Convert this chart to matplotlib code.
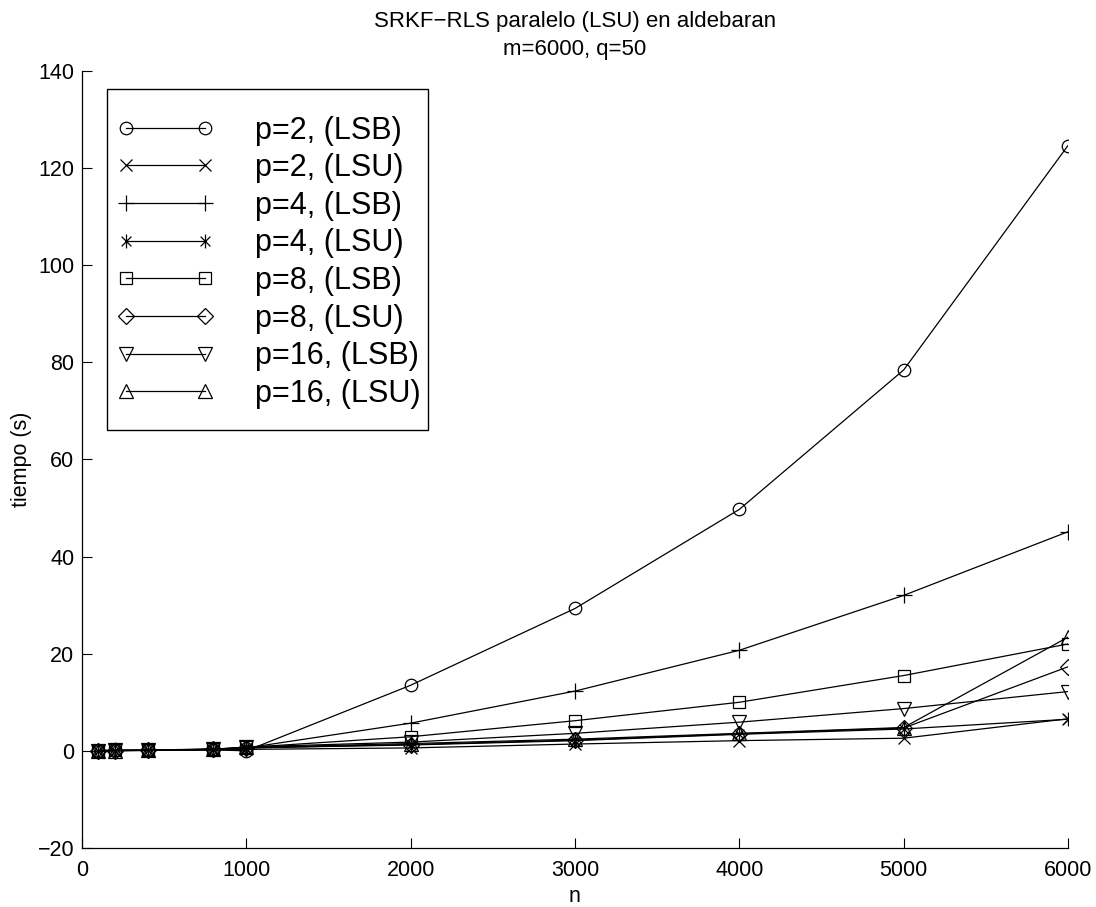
import numpy as np
import matplotlib
matplotlib.use('Agg')
import matplotlib.pyplot as plt
from matplotlib.path import Path
from matplotlib.patches import Rectangle
from matplotlib.lines import Line2D
from matplotlib.legend_handler import HandlerLine2D

# problem sizes
n = [100, 200, 400, 800, 1000, 2000, 3000, 4000, 5000, 6000]

# execution times (s)
t_p2_lsb = [0.05, 0.1, 0.1, 0.2, 0.0, 13.5, 29.3, 49.7, 78.4, 124.6]
t_p2_lsu = [0.02, 0.04, 0.08, 0.2, 0.3, 0.6, 1.4, 2.1, 2.6, 6.6]
t_p4_lsb = [0.05, 0.1, 0.15, 0.4, 0.6, 5.7, 12.3, 20.7, 32.0, 45.1]
t_p4_lsu = [0.03, 0.05, 0.1, 0.3, 0.6, 1.2, 2.1, 3.4, 4.5, 6.5]
t_p8_lsb = [0.05, 0.08, 0.12, 0.35, 0.7, 2.9, 6.2, 10.0, 15.5, 22.0]
t_p8_lsu = [0.03, 0.05, 0.1, 0.3, 0.6, 1.3, 2.2, 3.5, 4.7, 17.3]
t_p16_lsb = [0.05, 0.08, 0.12, 0.3, 0.8, 1.8, 3.6, 5.9, 8.7, 12.2]
t_p16_lsu = [0.04, 0.06, 0.1, 0.3, 0.7, 1.5, 2.4, 3.6, 4.8, 23.4]

labels = ['p=2, (LSB)', 'p=2, (LSU)', 'p=4, (LSB)', 'p=4, (LSU)',
          'p=8, (LSB)', 'p=8, (LSU)', 'p=16, (LSB)', 'p=16, (LSU)']

# asterisk like the one matlab uses: vertical bar plus an x
asterisk = Path([(0, -1), (0, 1), (-0.7, -0.7), (0.7, 0.7), (-0.7, 0.7), (0.7, -0.7)],
                [Path.MOVETO, Path.LINETO, Path.MOVETO, Path.LINETO, Path.MOVETO, Path.LINETO])

series = [
    (t_p2_lsb, 'o', 9),
    (t_p2_lsu, 'x', 8),
    (t_p4_lsb, '+', 11),
    (t_p4_lsu, asterisk, 10),
    (t_p8_lsb, 's', 8),
    (t_p8_lsu, 'D', 8),
    (t_p16_lsb, 'v', 10),
    (t_p16_lsu, '^', 10),
]

plt.rcParams['font.family'] = ['Liberation Sans', 'DejaVu Sans']

W, H = 1096, 907
fig = plt.figure(figsize=(W / 100, H / 100), dpi=100)
ax = fig.add_axes([82 / W, 1 - 848 / H, 986 / W, (848 - 70.7) / H])

for (t, m, ms), lab in zip(series, labels):
    ax.plot(n, t, color='black', lw=0.9, marker=m, ms=ms, mfc='none',
            mec='black', mew=0.9, label=lab)

ax.set_xlim(0, 6000)
ax.set_ylim(-20, 140)
ax.set_xticks(np.arange(0, 6001, 1000))
ax.set_yticks(np.arange(-20, 141, 20))
ax.tick_params(direction='in', length=7, width=0.8, labelsize=15.5)
ax.tick_params(axis='x', pad=8.5)
ax.tick_params(axis='y', pad=5.5)
ax.spines['top'].set_visible(False)
ax.spines['right'].set_visible(False)
for s in ('left', 'bottom'):
    ax.spines[s].set_linewidth(0.9)

ax.set_xlabel('n', fontsize=15.5, labelpad=4)
ax.set_ylabel('tiempo (s)', fontsize=15.5, labelpad=4)

# two-line title, placed by baseline
fig.text(575 / W, 1 - 27.3 / H, 'SRKF\u2212RLS paralelo (LSU) en aldebaran',
         fontsize=16, ha='center', va='baseline')
fig.text(575 / W, 1 - 55 / H, 'm=6000, q=50',
         fontsize=16, ha='center', va='baseline')

# legend box drawn separately so the padding can be uneven
def px_to_axes(x, y):
    return (x - 82) / 986, (848 - y) / (848 - 70.7)

bx0, by1 = px_to_axes(107, 89)
bx1, by0 = px_to_axes(428, 430)
ax.add_patch(Rectangle((bx0, by0), bx1 - bx0, by1 - by0, transform=ax.transAxes,
                       facecolor='white', edgecolor='black', lw=1.0, zorder=4.5))

lx, ly = px_to_axes(126, 115.5)
leg = ax.legend(loc='upper left', bbox_to_anchor=(lx, ly),
                fontsize=22, frameon=False, handlelength=2.58,
                handletextpad=1.63, labelspacing=0.25, borderpad=0,
                borderaxespad=0, numpoints=2,
                handler_map={Line2D: HandlerLine2D(marker_pad=0)})

fig.savefig('out.png', dpi=100)
